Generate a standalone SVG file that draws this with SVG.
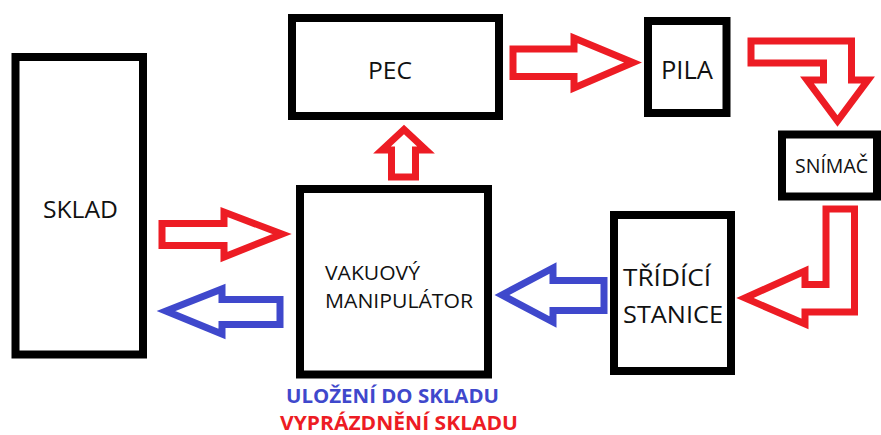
<svg xmlns="http://www.w3.org/2000/svg" width="881" height="435" viewBox="0 0 881 435">
  <style>
    .box { fill: #ffffff; stroke: #000000; stroke-width: 8; }
    .lbl { font-family: "Open Sans", "Noto Sans", "DejaVu Sans", sans-serif; fill: #111111; }
    .red { fill: none; stroke: #ED1C24; stroke-width: 7; stroke-linejoin: miter; }
    .blue { fill: none; stroke: #3F48CC; stroke-width: 7; stroke-linejoin: miter; }
    .legend { font-family: "Open Sans", "Noto Sans", "DejaVu Sans", sans-serif; font-weight: bold; font-size: 20px; }
  </style>
  <rect width="881" height="435" fill="#ffffff"/>

  <g id="sklad">
    <rect class="box" x="15.5" y="57" width="127.5" height="297.5"/>
    <text class="lbl" x="80.5" y="218" font-size="24" text-anchor="middle" textLength="75" lengthAdjust="spacingAndGlyphs">SKLAD</text>
  </g>

  <g id="pec">
    <rect class="box" x="292" y="18" width="207" height="98"/>
    <text class="lbl" x="390" y="79" font-size="24" text-anchor="middle" textLength="44" lengthAdjust="spacingAndGlyphs">PEC</text>
  </g>

  <g id="pila">
    <rect class="box" x="648" y="21" width="78.5" height="92"/>
    <text class="lbl" x="687" y="79" font-size="25" text-anchor="middle" textLength="52" lengthAdjust="spacingAndGlyphs">PILA</text>
  </g>

  <g id="snimac">
    <rect class="box" x="782" y="134.5" width="95" height="62"/>
    <text class="lbl" x="795" y="173" font-size="20" textLength="73" lengthAdjust="spacingAndGlyphs">SNÍMAČ</text>
  </g>

  <g id="tridici-stanice">
    <rect class="box" x="614" y="215" width="117" height="156"/>
    <text class="lbl" x="623" y="286" font-size="24" textLength="88" lengthAdjust="spacingAndGlyphs">TŘÍDÍCÍ</text>
    <text class="lbl" x="623" y="323" font-size="24" textLength="100" lengthAdjust="spacingAndGlyphs">STANICE</text>
  </g>

  <g id="vakuovy-manipulator">
    <rect class="box" x="300" y="189" width="188" height="185.5"/>
    <text class="lbl" x="325" y="280" font-size="20.5" textLength="95" lengthAdjust="spacingAndGlyphs">VAKUOVÝ</text>
    <text class="lbl" x="325" y="308" font-size="20.5" textLength="148" lengthAdjust="spacingAndGlyphs">MANIPULÁTOR</text>
  </g>

  <g id="connectors">
    <path class="red" d="M162,223.5 H224 V212 L282,234 L224,257 V245.5 H162 Z"/>
    <path class="blue" d="M280,299.5 H222 V289 L166,311 L222,334 V324.5 H280 Z"/>
    <path class="red" d="M391.5,177 V150 H382 L404,129.5 L426,150 H415.5 V177 Z"/>
    <path class="red" d="M513,49 H574 V38 L633,62.5 L574,88 V76.5 H513 Z"/>
    <path class="red" d="M751,41 H851.5 V80 H868 L837.5,121 L807,80 H823.5 V63 H751 Z"/>
    <path class="red" d="M826,209 H854.5 V312 H805 V324 L745,298 L805,271 V284.5 H826 Z"/>
    <path class="blue" d="M604,280.5 H553 V268 L502,295 L553,322 V310.5 H604 Z"/>
  </g>

  <g id="legend">
    <text class="legend" x="286" y="403" fill="#3F48CC" textLength="213" lengthAdjust="spacingAndGlyphs">ULOŽENÍ DO SKLADU</text>
    <text class="legend" x="280" y="430" fill="#ED1C24" textLength="238" lengthAdjust="spacingAndGlyphs">VYPRÁZDNĚNÍ SKLADU</text>
  </g>
</svg>
